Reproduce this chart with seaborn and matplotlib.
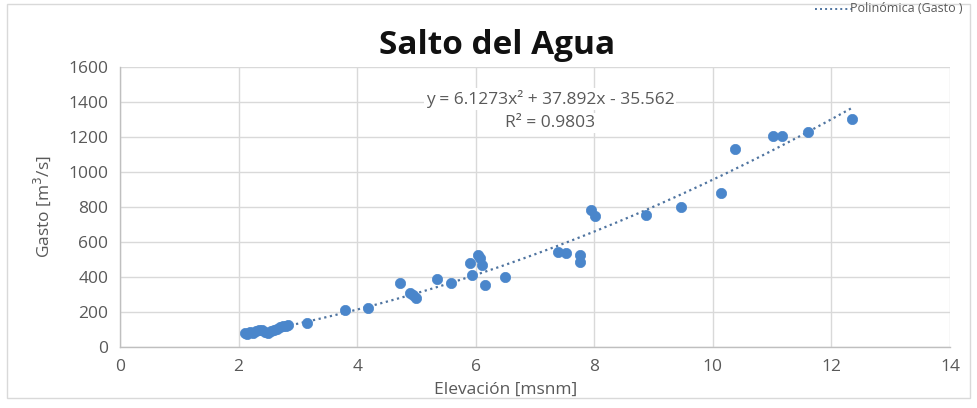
import numpy as np
import pandas as pd
import matplotlib
matplotlib.use("Agg")
import matplotlib.pyplot as plt
import seaborn as sns
from matplotlib.patches import Rectangle
from matplotlib.lines import Line2D

# ---- data ----
elevacion = [2.11, 2.15, 2.2, 2.25, 2.3, 2.35, 2.4, 2.45, 2.5, 2.55, 2.6, 2.65, 2.7, 2.75,
             2.8, 2.84, 3.15, 3.79, 4.19, 4.72, 4.89, 4.95, 5.0, 5.34, 5.59, 5.9, 5.93,
             6.04, 6.07, 6.1, 6.16, 6.49, 7.38, 7.52, 7.76, 7.76, 7.95, 8.01, 8.87, 9.47,
             10.13, 10.38, 11.02, 11.16, 11.6, 12.35]
gasto = [78, 75, 85, 82, 90, 95, 100, 88, 80, 92, 100, 105, 112, 118,
         122, 126, 139, 213, 225, 364, 307, 295, 280, 387, 365, 478, 411,
         526, 507, 469, 355, 398, 545, 540, 524, 487, 785, 750, 752, 798,
         882, 1130, 1207, 1207, 1227, 1303]
trend_coef = [6.1273, 37.892, -35.562]   # y = a x^2 + b x + c
x_ticks = [0, 2, 4, 6, 8, 10, 12, 14]
y_ticks = [0, 200, 400, 600, 800, 1000, 1200, 1400, 1600]

title = "Salto del Agua"
eq_text = "y = 6.1273x² + 37.892x - 35.562"
r2_text = "R² = 0.9803"
legend_label = "Polinómica (Gasto )"

# ---- style ----
sns.set_theme(style="white")
plt.rcParams['font.family'] = ['Open Sans', 'DejaVu Sans']

W, H = 977, 408
fig = plt.figure(figsize=(W / 100, H / 100), dpi=100)
ax = fig.add_axes([120 / W, 1 - 347 / H, (950 - 120) / W, (347 - 67) / H])

df = pd.DataFrame({"Elevación": elevacion, "Gasto": gasto})
pt_color = "#4A86CB"
grey_txt = "#595959"
grid_c = "#D9D9D9"
fs = 12.5

# trendline
xs = np.linspace(min(elevacion), max(elevacion), 200)
ys = np.polyval(trend_coef, xs)
tdf = pd.DataFrame({"x": xs, "y": ys})
sns.lineplot(data=tdf, x="x", y="y", ax=ax, color="#4F74A0", linewidth=1.6,
             linestyle=(0, (1, 1.6)), zorder=3)

sns.scatterplot(data=df, x="Elevación", y="Gasto", ax=ax, color=pt_color, s=55,
                edgecolor=pt_color, linewidth=0.5, zorder=4)

ax.set_xlim(0, 14)
ax.set_ylim(0, 1600)
ax.set_xticks(x_ticks)
ax.set_yticks(y_ticks)
ax.grid(True, color=grid_c, linewidth=1.0, zorder=0)
ax.set_axisbelow(True)
for s in ["top", "right"]:
    ax.spines[s].set_visible(False)
for s in ["left", "bottom"]:
    ax.spines[s].set_color("#BFBFBF")
    ax.spines[s].set_linewidth(1.0)
ax.tick_params(axis="both", direction="inout", length=7, width=1.0, color="#BFBFBF",
               labelsize=fs, labelcolor=grey_txt, pad=5)
ax.set_xlabel("")
ax.set_ylabel("")

fig.text(506 / W, 1 - 390 / H, "Elevación [msnm]", ha="center", va="center",
         fontsize=fs, color=grey_txt)
fig.text(42 / W, 1 - 207 / H, "Gasto [m$^3$/s]", ha="center", va="center",
         rotation=90, fontsize=fs, color=grey_txt)

fig.text(497 / W, 1 - 45 / H, title, ha="center", va="center", fontsize=24,
         fontweight="bold", color="#111111")

fig.text(550 / W, 1 - 99 / H, eq_text, ha="center", va="center", fontsize=fs,
         color=grey_txt, bbox=dict(facecolor="white", edgecolor="none", pad=1.5))
fig.text(550 / W, 1 - 123 / H, r2_text, ha="center", va="center", fontsize=fs,
         color=grey_txt, bbox=dict(facecolor="white", edgecolor="none", pad=1.5))

# legend (top right)
fig.add_artist(Line2D([815 / W, 852 / W], [1 - 9 / H, 1 - 9 / H], color="#4F74A0",
                      linewidth=1.4, linestyle=(0, (1, 1.6))))
fig.text(962 / W, 1 - 9 / H, legend_label, ha="right", va="center", fontsize=9,
         color=grey_txt)

# chart border
fig.add_artist(Rectangle((7 / W, 1 - 398 / H), (970 - 7) / W, (398 - 4) / H,
                         transform=fig.transFigure, fill=False, edgecolor="#D9D9D9",
                         linewidth=1.0))

fig.savefig("out.png", dpi=100, facecolor="white")
